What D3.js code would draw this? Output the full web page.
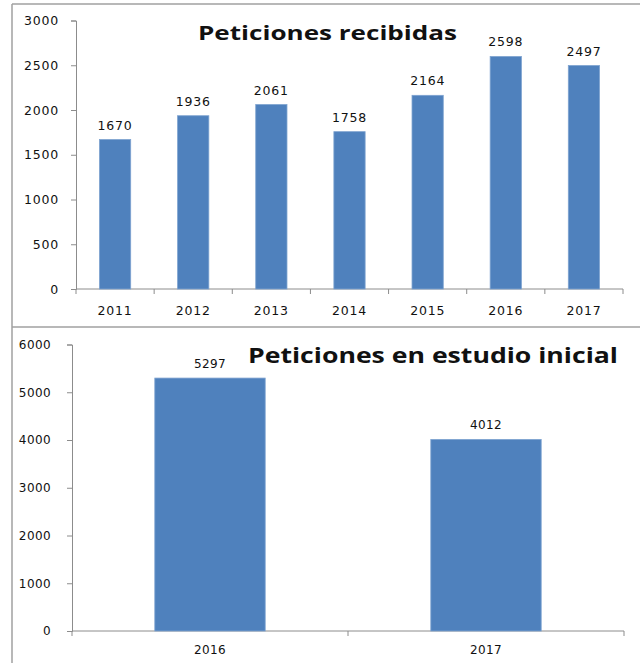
<!DOCTYPE html>
<html>
<head>
<meta charset="utf-8">
<title>Peticiones</title>
<script src="https://d3js.org/d3.v7.min.js"></script>
<style>
  body { margin: 0; background: #fff; }
  text { font-family: "DejaVu Sans", sans-serif; fill: #111; }
</style>
</head>
<body>
<script>
// chart 1 data
var years1 = ["2011", "2012", "2013", "2014", "2015", "2016", "2017"];
var values1 = [1670, 1936, 2061, 1758, 2164, 2598, 2497];
var ticks1 = [0, 500, 1000, 1500, 2000, 2500, 3000];
var title1 = "Peticiones recibidas";

// chart 2 data
var years2 = ["2016", "2017"];
var values2 = [5297, 4012];
var ticks2 = [0, 1000, 2000, 3000, 4000, 5000, 6000];
var title2 = "Peticiones en estudio inicial";

var W = 640, H = 663;
var barColor = "#4f81bd";
var axisColor = "#8c8c8c";

var svg = d3.select("body").append("svg")
  .attr("width", W)
  .attr("height", H);

// frames
svg.append("line").attr("x1", 12).attr("x2", 12).attr("y1", 4).attr("y2", H)
  .attr("stroke", "#a0a0a0").attr("stroke-width", 1.5);
svg.append("line").attr("x1", 12).attr("x2", W).attr("y1", 4).attr("y2", 4)
  .attr("stroke", "#a0a0a0").attr("stroke-width", 1.5);
svg.append("line").attr("x1", 12).attr("x2", W).attr("y1", 327).attr("y2", 327)
  .attr("stroke", "#a0a0a0").attr("stroke-width", 1.5);

function drawChart(cfg) {
  var x = d3.scaleBand()
    .domain(cfg.cats)
    .range([cfg.x0, cfg.x1])
    .paddingInner(0.6)
    .paddingOuter(0.3);

  var y = d3.scaleLinear()
    .domain([0, cfg.max])
    .range([cfg.y0, cfg.y1]);

  var g = svg.append("g");

  // y axis
  var ya = g.append("g")
    .attr("transform", "translate(" + cfg.x0 + ",0)")
    .call(d3.axisLeft(y).tickValues(cfg.ticks).tickSize(5).tickPadding(cfg.ypad).tickFormat(d3.format("d")));
  ya.selectAll("path, line").attr("stroke", axisColor);
  ya.selectAll("text").style("font-size", cfg.fs + "px")
    .style("letter-spacing", cfg.ls + "px").attr("fill", "#111");

  // x axis (ticks at category boundaries)
  var step = x.step();
  var bounds = d3.range(cfg.cats.length + 1).map(function(i) { return cfg.x0 + i * step; });
  var xa = g.append("g");
  xa.append("line").attr("x1", cfg.x0).attr("x2", cfg.x1)
    .attr("y1", cfg.y0).attr("y2", cfg.y0)
    .attr("stroke", axisColor);
  xa.selectAll(".tk").data(bounds).enter().append("line")
    .attr("x1", function(d) { return d; }).attr("x2", function(d) { return d; })
    .attr("y1", cfg.y0).attr("y2", cfg.y0 + 5)
    .attr("stroke", axisColor);
  xa.selectAll(".lb").data(cfg.cats).enter().append("text")
    .attr("x", function(d) { return x(d) + x.bandwidth() / 2; })
    .attr("y", cfg.xlabY)
    .attr("text-anchor", "middle")
    .style("font-size", cfg.fs + "px")
    .style("letter-spacing", cfg.ls + "px")
    .text(function(d) { return d; });

  // bars
  g.selectAll(".bar").data(cfg.vals).enter().append("rect")
    .attr("x", function(d, i) { return x(cfg.cats[i]); })
    .attr("y", function(d) { return y(d); })
    .attr("width", x.bandwidth())
    .attr("height", function(d) { return cfg.y0 - y(d); })
    .attr("fill", barColor)
    .attr("stroke", "#7ea3d0")
    .attr("stroke-width", 0.8);

  // value labels
  g.selectAll(".val").data(cfg.vals).enter().append("text")
    .attr("x", function(d, i) { return x(cfg.cats[i]) + x.bandwidth() / 2; })
    .attr("y", function(d) { return y(d) - 10; })
    .attr("text-anchor", "middle")
    .style("font-size", cfg.fs + "px")
    .style("letter-spacing", cfg.ls + "px")
    .text(function(d) { return d; });

  // title
  g.append("text")
    .attr("x", cfg.tx)
    .attr("y", cfg.ty)
    .attr("textLength", cfg.tw)
    .attr("lengthAdjust", "spacingAndGlyphs")
    .style("font-family", "'Open Sans', sans-serif")
    .style("font-weight", "bold")
    .style("font-size", cfg.tfs + "px")
    .text(cfg.title);
}

drawChart({
  cats: years1, vals: values1, ticks: ticks1, max: 3000, title: title1,
  x0: 76, x1: 623, y0: 289, y1: 20.5, ypad: 12, xlabY: 315, fs: 12.5, ls: 0.8,
  tx: 198, ty: 40, tw: 259, tfs: 20
});

drawChart({
  cats: years2, vals: values2, ticks: ticks2, max: 6000, title: title2,
  x0: 72, x1: 624, y0: 631, y1: 344.5, ypad: 16, xlabY: 654, fs: 12, ls: 0.4,
  tx: 248, ty: 363, tw: 370, tfs: 22
});
</script>
</body>
</html>
